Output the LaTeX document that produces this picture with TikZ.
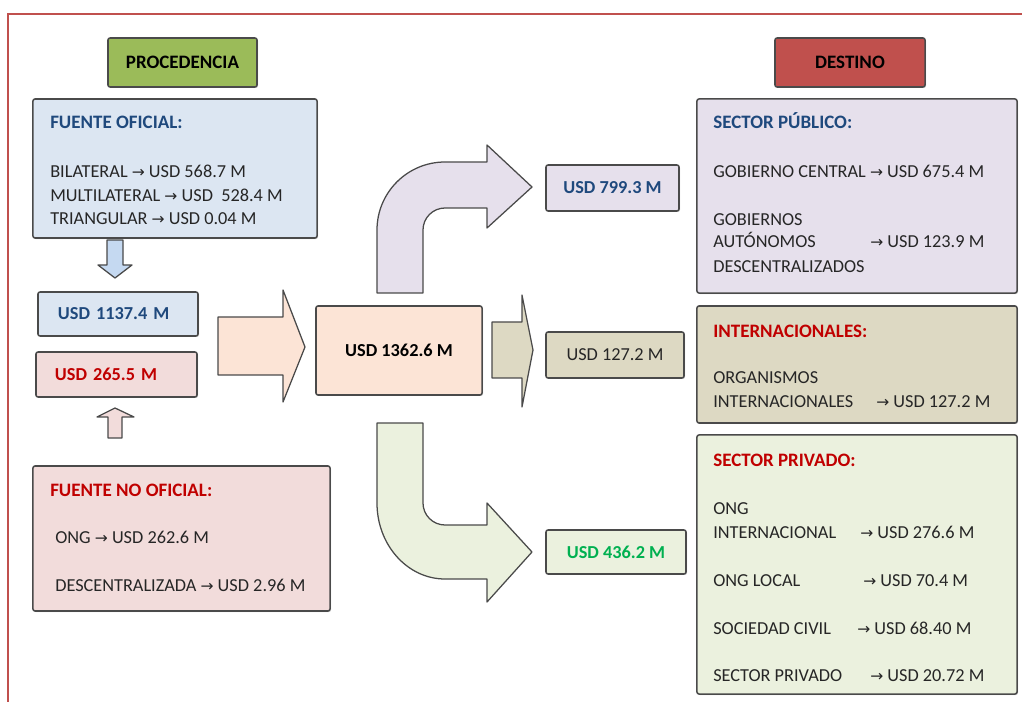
\documentclass[tikz,border=0pt]{standalone}
\usepackage{fontspec}
\setmainfont{Carlito}
\newfontfamily\flechas[Scale=0.85]{DejaVu Sans}
\usetikzlibrary{calc, shadows}

\definecolor{rojoM}{HTML}{C0504D}
\definecolor{verdeT}{HTML}{9BBB59}
\definecolor{bordeG}{HTML}{4A4A4A}
\definecolor{textoG}{HTML}{262626}
\definecolor{azulC}{HTML}{DCE6F2}
\definecolor{azulF}{HTML}{C5D9F1}
\definecolor{rosaC}{HTML}{F2DCDB}
\definecolor{durazC}{HTML}{FCE4D6}
\definecolor{lilaC}{HTML}{E6E0EC}
\definecolor{cafeC}{HTML}{DDD9C3}
\definecolor{verdeC}{HTML}{EBF1DE}
\definecolor{azulT}{HTML}{1F497D}
\definecolor{rojoT}{HTML}{C00000}
\definecolor{verdeN}{HTML}{00B050}

\newcommand{\fl}{{\flechas →}}

\tikzset{
  caja/.style={draw=bordeG, line width=1.1pt, rounded corners=1.5pt,
    drop shadow={shadow xshift=.7pt, shadow yshift=-.7pt, opacity=.35}},
  negrita/.style={font=\fontsize{13}{15}\selectfont\bfseries},
  linea/.style={anchor=base west, inner sep=0pt, text=textoG},
  titulo/.style={anchor=base west, inner sep=0pt, font=\fontsize{13.5}{15}\selectfont\bfseries},
  flechab/.style={draw=bordeG, line width=.9pt, line join=round},
}

\begin{document}
\begin{tikzpicture}[x=0.025cm, y=-0.025cm, font=\fontsize{13}{15}\selectfont]
        \useasboundingbox (0,0) rectangle (1022,702);
        % marco
        \draw[rojoM, line width=1.4pt] (1022,14) -- (8,14) -- (8,702);

        % procedencia
        \node[caja, fill=verdeT, minimum width=3.725cm, minimum height=1.225cm, font=\fontsize{13.5}{15}\selectfont\bfseries] (proc) at (182.5,62.5) {PROCEDENCIA};
        \node[caja, fill=azulC, minimum width=7.1cm, minimum height=3.475cm] (fofi) at (175,168.5) {};
        \node[titulo, text=azulT] (fofiT) at (50,129) {FUENTE OFICIAL:};
        \node[linea] (bil) at (50,178) {BILATERAL \fl{} USD 568.7 M};
        \node[linea] (mul) at (50,202) {MULTILATERAL \fl{} USD\ \ 528.4 M};
        \node[linea] (tri) at (50,225) {TRIANGULAR \fl{} USD 0.04 M};

        \draw[flechab, fill=azulF] (107,240) -- (123,240) -- (123,265) -- (132,265) -- (115,278) -- (98,265) -- (107,265) -- cycle;

        \node[caja, negrita, fill=azulC, minimum width=4cm, minimum height=1.1cm, text width=3cm, inner xsep=.5cm, align=left, text=azulT] (uofi) at (118,314) {USD 1137.4 M};
        \node[caja, negrita, fill=rosaC, minimum width=4.025cm, minimum height=1.125cm, text width=3.075cm, inner xsep=.475cm, align=left, text=rojoT] (unof) at (116.5,374.5) {USD 265.5 M};

        \draw[flechab, fill=rosaC] (115,408) -- (134,417) -- (122,417) -- (122,438) -- (108,438) -- (108,417) -- (97,417) -- cycle;

        \node[caja, fill=rosaC, minimum width=7.425cm, minimum height=3.625cm] (fnof) at (181.5,538.5) {};
        \node[titulo, text=rojoT] (fnofT) at (50,496) {FUENTE NO OFICIAL:};
        \node[linea] (ong) at (55,543) {ONG \fl{} USD 262.6 M};
        \node[linea] (desc) at (55,591) {DESCENTRALIZADA \fl{} USD 2.96 M};

        % total
        \draw[flechab, fill=durazC] (218,317) -- (283,317) -- (283,290) -- (305,347) -- (283,402) -- (283,375) -- (218,375) -- cycle;
        \node[caja, negrita, fill=durazC, minimum width=4.15cm, minimum height=2.225cm, text=black] (total) at (399,350.5) {USD 1362.6 M};

        \draw[flechab, fill=lilaC] (377,293) -- (377,230) arc[start angle=180, end angle=270, radius=68] -- (487,162) -- (487,145) -- (532,187) -- (487,228) -- (487,208) -- (445,208) arc[start angle=270, end angle=180, radius=22] -- (423,293) -- cycle;
        \draw[flechab, fill=cafeC] (492,322) -- (522,322) -- (522,295) -- (533,350) -- (522,407) -- (522,378) -- (492,378) -- cycle;
        \draw[flechab, fill=verdeC] (377,423) -- (377,503) arc[start angle=180, end angle=90, x radius=68, y radius=76] -- (487,579) -- (487,602) -- (532,552) -- (487,503) -- (487,525) -- (445,525) arc[start angle=90, end angle=180, radius=22] -- (423,423) -- cycle;

        \node[caja, negrita, fill=lilaC, minimum width=3.325cm, minimum height=1.15cm, text=azulT] (upub) at (612.5,188) {USD 799.3 M};
        \node[caja, fill=cafeC, minimum width=3.45cm, minimum height=1.15cm, text=textoG] (uint) at (615,355) {USD 127.2 M};
        \node[caja, negrita, fill=verdeC, minimum width=3.5cm, minimum height=1.1cm, text=verdeN] (upri) at (616,552) {USD 436.2 M};

        % destino
        \node[caja, fill=rojoM, minimum width=3.75cm, minimum height=1.225cm, font=\fontsize{13.5}{15}\selectfont\bfseries] (dest) at (850,62.5) {DESTINO};

        \node[caja, fill=lilaC, minimum width=8cm, minimum height=4.85cm] (spub) at (857,196) {};
        \node[titulo, text=azulT] (spubT) at (713,129) {SECTOR PÚBLICO:};
        \node[linea] (gcen) at (713,178) {GOBIERNO CENTRAL \fl{} USD 675.4 M};
        \node[linea] (gob1) at (713,226) {GOBIERNOS};
        \node[linea] (gob2) at (713,248) {AUTÓNOMOS};
        \node[linea] (gobV) at (870,248) {\fl{} USD 123.9 M};
        \node[linea] (gob3) at (713,273) {DESCENTRALIZADOS};

        \node[caja, fill=cafeC, minimum width=8cm, minimum height=2.925cm] (sint) at (857,364.5) {};
        \node[titulo, text=rojoT] (sintT) at (713,338) {INTERNACIONALES:};
        \node[linea] (org1) at (713,384) {ORGANISMOS};
        \node[linea] (org2) at (713,408) {INTERNACIONALES};
        \node[linea] (orgV) at (876,408) {\fl{} USD 127.2 M};

        \node[caja, fill=verdeC, minimum width=8cm, minimum height=6.475cm] (spri) at (857,564.5) {};
        \node[titulo, text=rojoT] (spriT) at (713,466) {SECTOR PRIVADO:};
        \node[linea] (ongi1) at (713,514) {ONG};
        \node[linea] (ongi2) at (713,538) {INTERNACIONAL};
        \node[linea] (ongiV) at (860,538) {\fl{} USD 276.6 M};
        \node[linea] (ongl) at (713,586) {ONG LOCAL};
        \node[linea] (onglV) at (863,586) {\fl{} USD 70.4 M};
        \node[linea] (soc) at (713,634) {SOCIEDAD CIVIL};
        \node[linea] (socV) at (857,634) {\fl{} USD 68.40 M};
        \node[linea] (spr) at (713,681) {SECTOR PRIVADO};
        \node[linea] (sprV) at (870,681) {\fl{} USD 20.72 M};
\end{tikzpicture}
\end{document}
